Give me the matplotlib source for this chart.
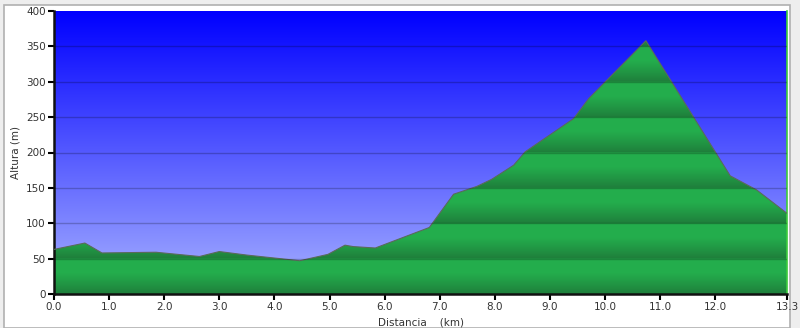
import numpy as np
import matplotlib
matplotlib.use("Agg")
import matplotlib.pyplot as plt
from matplotlib.patches import Rectangle
from matplotlib.colors import LinearSegmentedColormap

# Data: distance (km) and altitude (m)
distancia = [0.0, 0.56, 0.87, 1.85, 2.64, 3.0, 3.5, 4.46, 4.97, 5.28, 5.43, 5.83,
             6.81, 7.25, 7.67, 7.94, 8.34, 8.55, 9.0, 9.43, 9.70, 10.74, 12.27,
             12.75, 13.3]
altura = [63, 72, 58, 59, 53, 60, 55, 47, 56, 69, 67, 65,
          94, 141, 152, 162, 182, 201, 225, 248, 276, 358, 167,
          147, 114]
xticks = [0, 1, 2, 3, 4, 5, 6, 7, 8, 9, 10, 11, 12, 13.3]
xticklabels = ["0.0", "1.0", "2.0", "3.0", "4.0", "5.0", "6.0", "7.0", "8.0",
               "9.0", "10.0", "11.0", "12.0", "13.3"]
yticks = [0, 50, 100, 150, 200, 250, 300, 350, 400]

plt.rcParams['font.family'] = ['DejaVu Sans']

fig = plt.figure(figsize=(8.0, 3.28), dpi=100, facecolor='#eeeeee')
# white panel with gray border
fig.patches.append(Rectangle((4/800, 0), 786/800, 323/328, transform=fig.transFigure,
                             facecolor='white', edgecolor='#b0b0b0', lw=1.2, zorder=-10))

ax = fig.add_axes([54/800, 1 - 294/328, (787 - 54)/800, (294 - 11)/328])
xmax, ymax = 13.3, 400
ax.set_xlim(0, xmax)
ax.set_ylim(0, ymax)

# blue gradient background
grad = np.linspace(0, 1, 256).reshape(-1, 1)
bg_cmap = LinearSegmentedColormap.from_list('bg', [(0, 0, 1), (0.66, 0.70, 1.0)])
ax.imshow(grad, cmap=bg_cmap, extent=[0, xmax, 0, ymax], aspect='auto',
          origin='upper', zorder=0, interpolation='bilinear')

# green banded fill
poly = ax.fill_between(distancia, altura, 0, facecolor='none', edgecolor='none', zorder=1)
yy = np.linspace(0, ymax, 1600)
frac = (yy % 50) / 50.0  # 0 bottom of band, 1 top
shade = np.clip(frac / 0.6, 0, 1) ** 0.9
shade = shade.reshape(-1, 1)
g_cmap = LinearSegmentedColormap.from_list('g', [(0.12, 0.49, 0.23), (0.14, 0.68, 0.30)])
im = ax.imshow(shade, cmap=g_cmap, extent=[0, xmax, 0, ymax], aspect='auto',
               origin='lower', zorder=2, interpolation='bilinear', vmin=0, vmax=1)
im.set_clip_path(poly.get_paths()[0], transform=ax.transData)
ax.plot(distancia, altura, color='#5a6a5a', lw=0.8, zorder=3)

# grid
for yv in yticks[1:-1]:
    ax.axhline(yv, color='black', alpha=0.22, lw=1, zorder=4)

ax.set_xticks(xticks)
ax.set_xticklabels(xticklabels)
ax.set_yticks(yticks)
ax.tick_params(axis='both', direction='out', length=4, width=1.5, color='black',
               labelsize=7.5, labelcolor='#333333', pad=2)

for s in ['left', 'bottom']:
    ax.spines[s].set_color('#111111')
    ax.spines[s].set_linewidth(1.8)
ax.spines['top'].set_visible(False)
ax.spines['right'].set_color('#3ccc3c')
ax.spines['right'].set_linewidth(1.2)

ax.set_xlabel('Distancia    (km)', fontsize=7.5, color='#333333', labelpad=4)
ax.set_ylabel('Altura (m)', fontsize=7.5, color='#333333', labelpad=4)

fig.savefig('out.png', dpi=100, facecolor=fig.get_facecolor())
